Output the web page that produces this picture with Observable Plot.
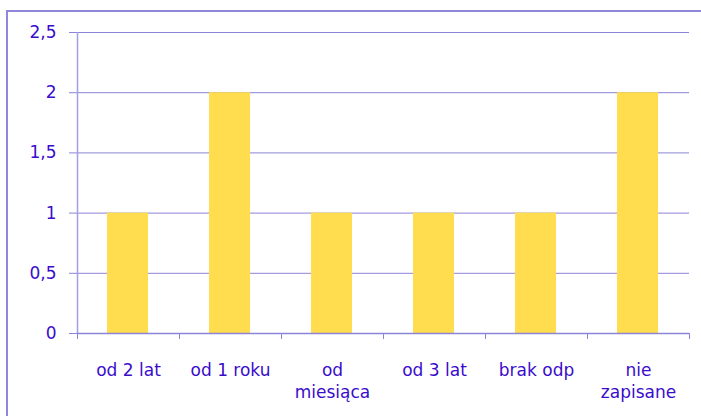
<!DOCTYPE html>
<html>
<head>
<meta charset="utf-8">
<script src="https://cdn.jsdelivr.net/npm/d3@7"></script>
<script src="https://cdn.jsdelivr.net/npm/@observablehq/plot@0.6"></script>
<style>
  html, body { margin: 0; padding: 0; background: #fff; overflow: hidden; }
  #wrap { position: relative; width: 701px; height: 416px; }
  #frame { position: absolute; left: 6px; top: 10px; width: 720px; height: 430px; border-left: 2px solid #8f87d9; border-top: 2px solid #8f87d9; }
  #chart { position: absolute; left: 0; top: 0; }
</style>
</head>
<body>
<div id="wrap"><div id="frame"></div><div id="chart"></div></div>
<script>
const categories = ["od 2 lat", "od 1 roku", "od\nmiesiąca", "od 3 lat", "brak odp", "nie\nzapisane"];
const values = [1, 2, 1, 1, 1, 2];
const yTicks = [0, 0.5, 1, 1.5, 2, 2.5];

const data = categories.map((c, i) => ({category: c, i, value: values[i]}));
const boundaries = d3.range(categories.length + 1);
const centers = categories.map((c, i) => i + 0.5);

const textColor = "#3a0ccc";
const gridColor = "#8c84d6";
const axisColor = "#a49ce6";
const font = "DejaVu Sans, Verdana, sans-serif";

const chart = Plot.plot({
  width: 701,
  height: 416,
  marginTop: 32,
  marginBottom: 83,
  marginLeft: 77,
  marginRight: 12,
  style: {fontFamily: font, background: "transparent", color: textColor},
  x: {domain: [0, categories.length]},
  y: {domain: [0, 2.5]},
  marks: [
    Plot.gridY(yTicks, {stroke: gridColor, strokeOpacity: 1, strokeWidth: 1}),
    Plot.axisY(yTicks, {tickSize: 8, tickPadding: 13, stroke: gridColor, fill: textColor, fontSize: 17,
      tickFormat: d => String(d).replace(".", ","), label: null}),
    Plot.rectY(data, {x1: "i", x2: d => d.i + 1, y: "value", insetLeft: 30, insetRight: 31, fill: "#ffdd4f"}),
    Plot.ruleX([0], {stroke: axisColor, strokeWidth: 1.5}),
    Plot.ruleY([0], {stroke: gridColor, strokeWidth: 1.5}),
    Plot.axisX(boundaries, {tickSize: 6, stroke: gridColor, tickFormat: () => "", label: null}),
    Plot.axisX(centers, {tickSize: 0, tickPadding: 27, fill: textColor, fontSize: 17, lineHeight: 1.3,
      tickFormat: d => categories[Math.floor(d)], label: null})
  ]
});
document.getElementById("chart").appendChild(chart);
</script>
</body>
</html>
